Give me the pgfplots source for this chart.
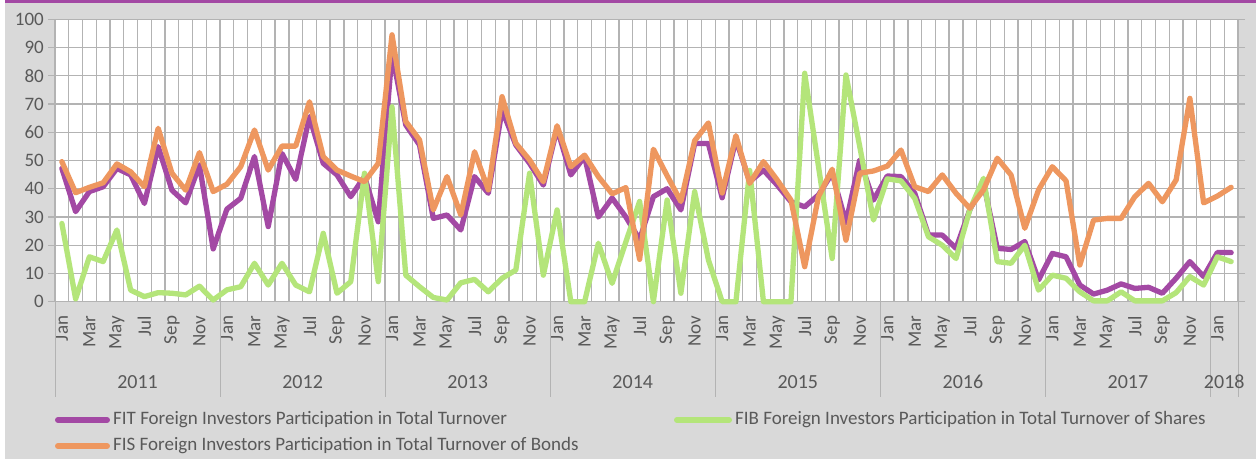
\documentclass[border=0pt]{standalone}
\usepackage{fontspec}
\setmainfont{Carlito}
\usepackage{pgfplots}
\pgfplotsset{compat=1.18}
\definecolor{cFIT}{HTML}{A349A4}
\definecolor{cFIS}{HTML}{EE975F}
\definecolor{cFIB}{HTML}{B4E57A}
\definecolor{bggray}{HTML}{D9D9D9}
\definecolor{gridgray}{HTML}{B3B3B3}
\definecolor{txtgray}{HTML}{595959}
\begin{document}
\begin{tikzpicture}[x=1pt,y=1pt]
\useasboundingbox (0,0) rectangle (1256,459);
\fill[white] (0,0) rectangle (1256,459);
\fill[bggray] (5,0) rectangle (1256,456);
\fill[cFIT] (5,456) rectangle (1256,459);
\begin{axis}[
  at={(55pt,157.3pt)}, anchor=south west,
  scale only axis, width=1183pt, height=282.4pt,
  xmin=-0.5, xmax=85.5, ymin=0, ymax=100,
  clip=false,
  axis background/.style={fill=white},
  axis line style={gridgray, line width=1pt},
  xtick={0,2,...,84},
  xticklabels={Jan,Mar,May,Jul,Sep,Nov,Jan,Mar,May,Jul,Sep,Nov,Jan,Mar,May,Jul,Sep,Nov,Jan,Mar,May,Jul,Sep,Nov,Jan,Mar,May,Jul,Sep,Nov,Jan,Mar,May,Jul,Sep,Nov,Jan,Mar,May,Jul,Sep,Nov,Jan},
  minor xtick={-0.5,0.5,...,85.5},
  xminorgrids=true, ymajorgrids=true, xmajorgrids=false,
  grid style={gridgray, line width=1.3pt},
  minor grid style={gridgray, line width=1.3pt},
  ytick={0,10,...,100},
  tick align=outside,
  major tick length=7pt, minor tick length=0pt,
  x tick style={draw=none},
  y tick style={gridgray, line width=1.3pt},
  x tick label style={rotate=90, anchor=east, inner sep=0pt, font=\fontsize{19}{19}\selectfont, text=txtgray},
  xticklabel shift=7pt,
  y tick label style={inner sep=0pt, font=\fontsize{19}{19}\selectfont, text=txtgray},
  yticklabel shift=4pt,
  /pgf/number format/assume math mode=true,
  every axis plot/.append style={line width=5.3pt, line join=round, line cap=round, mark=none},
]
\addplot[cFIT] coordinates {
(0,47.2)(1,31.9)(2,39)(3,40.7)(4,47.2)(5,44.9)(6,34.8)(7,54.9)(8,39.5)(9,35)(10,48.4)(11,18.7)
(12,32.8)(13,36.6)(14,51.4)(15,26.6)(16,52.5)(17,43.3)(18,65.5)(19,49)(20,44.9)(21,37.2)(22,44.3)(23,28.3)
(24,88)(25,62.6)(26,55.5)(27,29.5)(28,30.7)(29,25.4)(30,44.3)(31,38.4)(32,67.9)(33,55.5)(34,49)(35,41.3)
(36,61.4)(37,44.9)(38,51.4)(39,30)(40,36.7)(41,30)(42,22)(43,37.2)(44,40)(45,32.5)(46,56)(47,56)
(48,36.8)(49,57.5)(50,42.5)(51,46.6)(52,41.3)(53,35.4)(54,33.6)(55,37.8)(56,45.5)(57,28)(58,50.2)(59,36)
(60,44.5)(61,44.3)(62,38.4)(63,23.6)(64,23.6)(65,18.9)(66,32.5)(67,42)(68,18.9)(69,18.5)(70,21.3)(71,7.7)
(72,17.1)(73,15.9)(74,5.9)(75,2.7)(76,4.1)(77,6.3)(78,4.7)(79,5.1)(80,3)(81,8.3)(82,14.2)(83,8.9)
(84,17.4)(85,17.4)
};
\addplot[cFIB] coordinates {
(0,27.7)(1,1)(2,15.9)(3,14.2)(4,25.4)(5,4.1)(6,1.8)(7,3.2)(8,3)(9,2.4)(10,5.5)(11,0.6)
(12,4.2)(13,5.3)(14,13.6)(15,5.9)(16,13.6)(17,5.9)(18,3.5)(19,24.2)(20,3)(21,7.1)(22,45.5)(23,7.1)
(24,69)(25,9.4)(26,5.3)(27,1.5)(28,0.6)(29,6.7)(30,7.9)(31,3.5)(32,8.3)(33,11.2)(34,45.5)(35,9.4)
(36,32.5)(37,0)(38,0)(39,20.7)(40,6.5)(41,21.2)(42,35.5)(43,0)(44,36)(45,3)(46,39)(47,14.8)
(48,0)(49,0)(50,46.5)(51,0)(52,0)(53,0)(54,80.9)(55,48)(56,15.3)(57,80.3)(58,55)(59,28.9)
(60,43.5)(61,42.8)(62,36.6)(63,23)(64,20)(65,15.3)(66,32.5)(67,43.7)(68,14.2)(69,13.6)(70,20)(71,4.1)
(72,9.4)(73,8.3)(74,3.5)(75,0.3)(76,0.3)(77,3.5)(78,0.3)(79,0.3)(80,0.3)(81,3.2)(82,8.9)(83,5.9)
(84,15.9)(85,14.2)
};
\addplot[cFIS] coordinates {
(0,49.6)(1,38.6)(2,40.5)(3,42.1)(4,48.8)(5,46)(6,40.7)(7,61.4)(8,45.5)(9,39.5)(10,52.8)(11,39)
(12,41.6)(13,47.8)(14,60.8)(15,46.6)(16,55.1)(17,55.1)(18,70.8)(19,51.4)(20,46.6)(21,44.5)(22,42.5)(23,49)
(24,94.5)(25,63.8)(26,57.3)(27,32.5)(28,44.3)(29,30.7)(30,53.1)(31,39.6)(32,72.6)(33,56.1)(34,50.2)(35,42.5)
(36,62.3)(37,47.8)(38,51.9)(39,44.3)(40,38.2)(41,40.4)(42,15)(43,54)(44,44.6)(45,35.5)(46,57)(47,63.3)
(48,38.5)(49,58.8)(50,41.9)(51,49.6)(52,43.1)(53,36)(54,12.4)(55,37.2)(56,46.9)(57,21.8)(58,45.5)(59,46.3)
(60,48)(61,53.7)(62,40.7)(63,39)(64,44.9)(65,38.4)(66,33.1)(67,39.6)(68,50.8)(69,44.9)(70,26)(71,39.6)
(72,47.8)(73,42.8)(74,13)(75,28.9)(76,29.5)(77,29.5)(78,37.2)(79,41.9)(80,35.4)(81,43.1)(82,72)(83,35)
(84,37.4)(85,40.5)
};
% year group separators and labels
\pgfplotsinvokeforeach{-0.5,11.5,23.5,35.5,47.5,59.5,71.5,83.5,85.5}{
  \draw[gridgray, line width=1pt] (axis cs:#1,0) -- ([yshift=-95pt]axis cs:#1,0);
}
\node[text=txtgray, font=\fontsize{20}{20}\selectfont, inner sep=0pt] at (axis cs:5.5,0) [yshift=-80pt] {2011};
\node[text=txtgray, font=\fontsize{20}{20}\selectfont, inner sep=0pt] at (axis cs:17.5,0) [yshift=-80pt] {2012};
\node[text=txtgray, font=\fontsize{20}{20}\selectfont, inner sep=0pt] at (axis cs:29.5,0) [yshift=-80pt] {2013};
\node[text=txtgray, font=\fontsize{20}{20}\selectfont, inner sep=0pt] at (axis cs:41.5,0) [yshift=-80pt] {2014};
\node[text=txtgray, font=\fontsize{20}{20}\selectfont, inner sep=0pt] at (axis cs:53.5,0) [yshift=-80pt] {2015};
\node[text=txtgray, font=\fontsize{20}{20}\selectfont, inner sep=0pt] at (axis cs:65.5,0) [yshift=-80pt] {2016};
\node[text=txtgray, font=\fontsize{20}{20}\selectfont, inner sep=0pt] at (axis cs:77.5,0) [yshift=-80pt] {2017};
\node[text=txtgray, font=\fontsize{20}{20}\selectfont, inner sep=0pt] at (axis cs:84.5,0) [yshift=-80pt] {2018};
\end{axis}
% legend
\begin{scope}[font=\fontsize{19}{19}\selectfont]
\draw[cFIT, line width=6pt, line cap=round] (58,39) -- (107,39);
\node[anchor=west, text=txtgray, inner sep=0pt] at (113,39) {FIT Foreign Investors Participation in Total Turnover};
\draw[cFIB, line width=6pt, line cap=round] (677,39) -- (729,39);
\node[anchor=west, text=txtgray, inner sep=0pt] at (735,39) {FIB Foreign Investors Participation in Total Turnover of Shares};
\draw[cFIS, line width=6pt, line cap=round] (58,13) -- (107,13);
\node[anchor=west, text=txtgray, inner sep=0pt] at (113,13) {FIS Foreign Investors Participation in Total Turnover of Bonds};
\end{scope}
\end{tikzpicture}
\end{document}
